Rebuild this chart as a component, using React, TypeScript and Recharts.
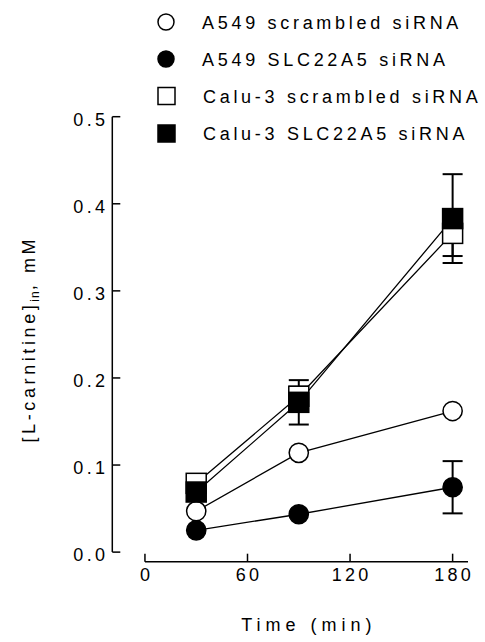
import React from "react"
import { LineChart, Line, XAxis, YAxis, ErrorBar, ReferenceLine } from "recharts"

// sampling times (min)
const times = [30, 90, 180]

// intracellular L-carnitine (mM), mean and SEM per series
const a549Scrambled = [0.047, 0.114, 0.162]
const a549ScrambledErr = [0, 0, 0]
const a549Knockdown = [0.025, 0.0435, 0.0745]
const a549KnockdownErr = [0, 0, 0.03]
const caluScrambled = [0.079, 0.179, 0.366]
const caluScrambledErr = [0, 0.011, 0.026]
const caluKnockdown = [0.069, 0.172, 0.383]
const caluKnockdownErr = [0, 0.0255, 0.051]

const xTicks = [0, 60, 120, 180]
const yTicks = [0, 0.1, 0.2, 0.3, 0.4, 0.5]
const legendLabels = [
  "A549 scrambled siRNA",
  "A549 SLC22A5 siRNA",
  "Calu-3 scrambled siRNA",
  "Calu-3 SLC22A5 siRNA",
]

const FONT = '"Liberation Sans", Arial, sans-serif'

// axes are drawn offset from the data origin, so the domains run a little past 0
const X_MIN = -19.1
const X_MAX = 189
const Y_MIN = -0.011
const Y_MAX = 0.5

const data = times.map((t, i) => ({
  time: t,
  a549Scr: a549Scrambled[i],
  a549ScrErr: a549ScrambledErr[i],
  a549Kd: a549Knockdown[i],
  a549KdErr: a549KnockdownErr[i],
  caluScr: caluScrambled[i],
  caluScrErr: caluScrambledErr[i],
  caluKd: caluKnockdown[i],
  caluKdErr: caluKnockdownErr[i],
}))

type Marker = "circle" | "square"

function makeDot(shape: Marker, filled: boolean) {
  return (p: any) => {
    const fill = filled ? "#000" : "#fff"
    if (shape === "circle") {
      return <circle key={`dot-${p.index}`} cx={p.cx} cy={p.cy} r={9.6} fill={fill} stroke="#000" strokeWidth={1.5} />
    }
    return <rect key={`dot-${p.index}`} x={p.cx - 10} y={p.cy - 10} width={20} height={20} fill={fill} stroke="#000" strokeWidth={1.5} />
  }
}

const YTick = ({ x, y, payload }: any) => (
  <text x={x} y={y} dy={9} textAnchor="end" fontSize={18} letterSpacing={3.3} fontFamily={FONT} fill="#000">
    {Number(payload.value).toFixed(1)}
  </text>
)

const XTick = ({ x, y, payload }: any) => (
  <text x={x + 1.6} y={y} dy={13.2} textAnchor="middle" fontSize={18} letterSpacing={3.3} fontFamily={FONT} fill="#000">
    {payload.value}
  </text>
)

const renderXTitle = (p: any) => {
  const vb = p.viewBox
  return (
    <text x={vb.x + vb.width / 2 + 18.8} y={vb.y + 69.5} textAnchor="middle" fontSize={18} letterSpacing={5} fontFamily={FONT} fill="#000">
      Time (min)
    </text>
  )
}

const renderYTitle = (p: any) => {
  const vb = p.viewBox
  const cx = vb.x - 17
  const cy = vb.y + vb.height / 2
  return (
    <text transform={`translate(${cx}, ${cy}) rotate(-90)`} textAnchor="middle" fontSize={18} letterSpacing={3.6} fontFamily={FONT} fill="#000">
      [L-carnitine]
      <tspan dy={4} fontSize={12} letterSpacing={1}>in</tspan>
      <tspan dy={-4}>, mM</tspan>
    </text>
  )
}

function Legend() {
  const markers: [Marker, boolean][] = [
    ["circle", false],
    ["circle", true],
    ["square", false],
    ["square", true],
  ]
  const rows = [22, 59, 96, 133.5]
  return (
    <svg width={485} height={150} style={{ position: "absolute", left: 0, top: 0 }}>
      {legendLabels.map((label, i) => {
        const [shape, filled] = markers[i]
        const cy = rows[i]
        const fill = filled ? "#000" : "#fff"
        return (
          <g key={label}>
            {shape === "circle" ? (
              <circle cx={166} cy={cy} r={8} fill={fill} stroke="#000" strokeWidth={1.5} />
            ) : (
              <rect x={158} y={cy - 8.5} width={17} height={17} fill={fill} stroke="#000" strokeWidth={1.5} />
            )}
            <text x={shape === "circle" ? 202 : 203} y={cy + 6.5} fontSize={18} letterSpacing={3.7} fontFamily={FONT} fill="#000">
              {label}
            </text>
          </g>
        )
      })}
    </svg>
  )
}

export default function App() {
  const lineProps = {
    type: "linear" as const,
    stroke: "#000",
    strokeWidth: 1.3,
    activeDot: false as const,
    isAnimationActive: false,
  }
  const errProps = { direction: "y" as const, width: 10, stroke: "#000", strokeWidth: 2 }

  return (
    <div style={{ position: "absolute", left: 0, top: 0, width: 485, height: 642, background: "#fff" }}>
      <LineChart width={485} height={642} data={data} margin={{ top: 116.7, right: 17, left: 52.3, bottom: 40.3 }}>
        <XAxis
          dataKey="time"
          type="number"
          domain={[X_MIN, X_MAX]}
          allowDataOverflow
          ticks={xTicks}
          height={40}
          axisLine={false}
          tickLine={{ stroke: "#000", strokeWidth: 1.5 }}
          tickSize={-8}
          tickMargin={14.3}
          tick={<XTick />}
          label={{ content: renderXTitle }}
        />
        <YAxis
          type="number"
          domain={[Y_MIN, Y_MAX]}
          allowDataOverflow
          ticks={yTicks}
          width={60}
          axisLine={false}
          tickLine={{ stroke: "#000", strokeWidth: 1.5 }}
          tickSize={-8}
          tickMargin={12}
          tick={<YTick />}
          label={{ content: renderYTitle }}
        />
        <ReferenceLine segment={[{ x: X_MIN, y: 0 }, { x: X_MIN, y: Y_MAX }]} stroke="#000" strokeWidth={1.5} ifOverflow="visible" />
        <ReferenceLine segment={[{ x: 0, y: Y_MIN }, { x: X_MAX, y: Y_MIN }]} stroke="#000" strokeWidth={1.5} ifOverflow="visible" />

        <Line dataKey="a549Scr" {...lineProps} dot={makeDot("circle", false)}>
          <ErrorBar dataKey="a549ScrErr" {...errProps} />
        </Line>
        <Line dataKey="a549Kd" {...lineProps} dot={makeDot("circle", true)}>
          <ErrorBar dataKey="a549KdErr" {...errProps} />
        </Line>
        <Line dataKey="caluScr" {...lineProps} dot={makeDot("square", false)}>
          <ErrorBar dataKey="caluScrErr" {...errProps} />
        </Line>
        <Line dataKey="caluKd" {...lineProps} dot={makeDot("square", true)}>
          <ErrorBar dataKey="caluKdErr" {...errProps} />
        </Line>
      </LineChart>
      <Legend />
    </div>
  )
}
